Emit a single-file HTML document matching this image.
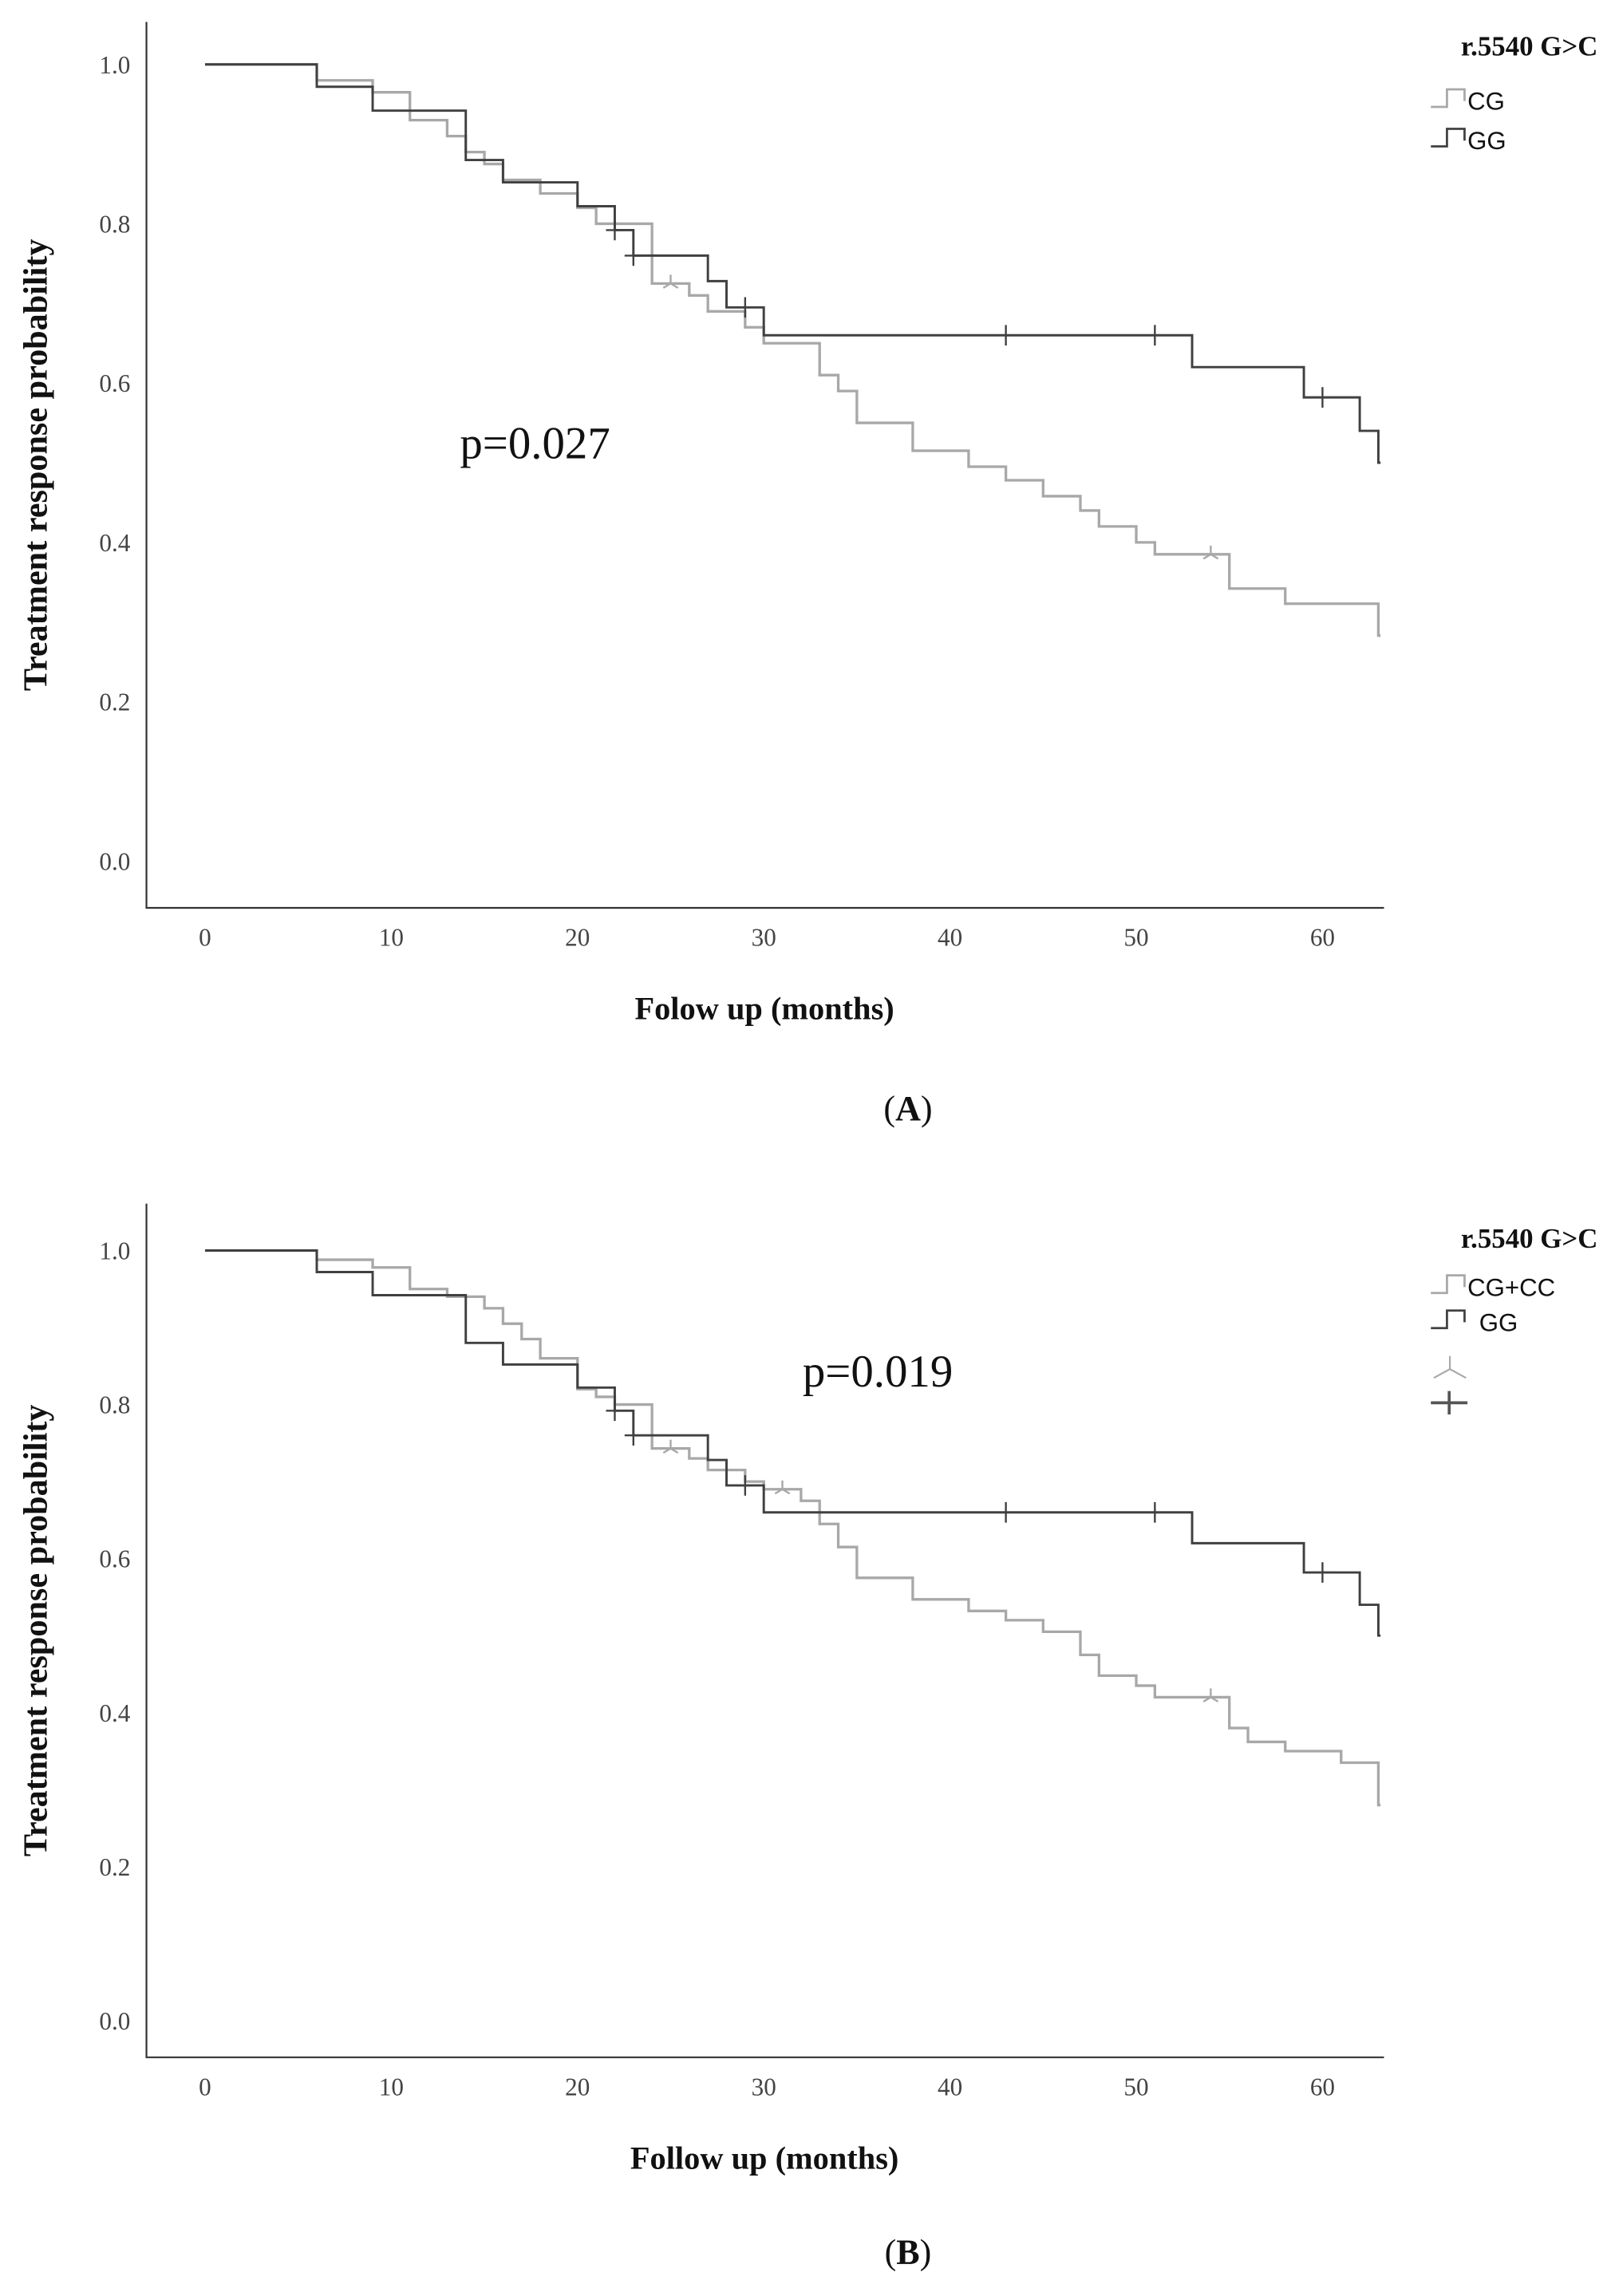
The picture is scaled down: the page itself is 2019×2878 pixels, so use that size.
<!DOCTYPE html>
<html><head><meta charset="utf-8"><style>
html,body{margin:0;padding:0;background:#fff;}
svg{display:block;}
text{font-family:"Liberation Serif",serif;}
text.sans{font-family:"Liberation Sans",sans-serif;}
</style></head><body>
<svg id="fig" width="2019" height="2878" viewBox="0 0 1100 1568" xmlns="http://www.w3.org/2000/svg"></svg>
<script>
// Panel A data
const aCgTimes = [0,6,9,11,13,14,15,16,18,20,21,24,26,27,29,30,33,34,35,38,41,43,45,47,48,50,51,55,58,63];
const aCgSurv  = [1.0,0.98,0.965,0.93,0.91,0.89,0.875,0.855,0.838,0.82,0.80,0.725,0.71,0.69,0.67,0.65,0.61,0.59,0.55,0.515,0.495,0.478,0.458,0.44,0.42,0.40,0.385,0.342,0.323,0.283];
const aCgCensT = [25,54];
const aGgTimes = [0,6,9,14,16,20,22,23,27,28,30,53,59,62,63];
const aGgSurv  = [1.0,0.972,0.942,0.88,0.852,0.822,0.792,0.76,0.728,0.695,0.66,0.62,0.582,0.54,0.50];
const aGgCensT = [22,23,29,43,51,60];
// Panel B data
const bCgTimes = [0,6,9,11,13,15,16,17,18,20,21,22,24,26,27,29,30,32,33,34,35,38,41,43,45,47,48,50,51,55,56,58,61,63];
const bCgSurv  = [1.0,0.988,0.978,0.95,0.94,0.925,0.905,0.885,0.86,0.82,0.81,0.80,0.743,0.73,0.715,0.70,0.69,0.675,0.645,0.615,0.575,0.547,0.532,0.52,0.505,0.475,0.448,0.435,0.42,0.38,0.362,0.35,0.335,0.28];
const bCgCensT = [25,31,54];
const bGgTimes = aGgTimes.slice();
const bGgSurv  = aGgSurv.slice();
const bGgCensT = aGgCensT.slice();
const xTicks = [0,10,20,30,40,50,60];
const yTicks = [0,0.2,0.4,0.6,0.8,1.0];
const yTickLabels = ["0.0","0.2","0.4","0.6","0.8","1.0"];

const NS="http://www.w3.org/2000/svg";
const svg=document.getElementById('fig');
function mk(tag,attrs,parent,txt){const e=document.createElementNS(NS,tag);for(const k in attrs)e.setAttribute(k,attrs[k]);if(txt!==undefined)e.textContent=txt;(parent||svg).appendChild(e);return e;}
function survAt(T,S,t){let v=S[0];for(let i=0;i<T.length;i++){if(T[i]<=t)v=S[i];}return v;}

function panel(cfg){
  const g=mk('g',{});
  
  
  const xs=t=>cfg.x0+(cfg.x60-cfg.x0)*t/60;
  const ys=v=>cfg.y0+(cfg.y1-cfg.y0)*v;
  const ax=mk('path',{d:`M100 ${cfg.top} V${cfg.bot} H945`,stroke:'#333','stroke-width':1.2,fill:'none'},g);
  
  
  xTicks.forEach(t=>{const e=mk('text',{x:xs(t),y:cfg.bot+26,'text-anchor':'middle','font-size':17,fill:'#444'},g,String(t));
    
    });
  yTicks.forEach((v,i)=>{const e=mk('text',{x:89,y:ys(v)+6,'text-anchor':'end','font-size':17,fill:'#444'},g,yTickLabels[i]);
    
    });
  const yt=mk('text',{transform:`translate(32 ${(cfg.top+cfg.bot)/2}) rotate(-90)`,'text-anchor':'middle','font-size':23,'font-weight':'bold',fill:'#111'},g,'Treatment response probability');
  
  
  const xt=mk('text',{x:522,y:cfg.bot+76,'text-anchor':'middle','font-size':22,'font-weight':'bold',fill:'#111'},g,cfg.xtitle);
  
  
  function series(T,S,C,color,w,nm,mark){
    let d=`M${xs(T[0])} ${ys(S[0])}`;
    for(let i=1;i<T.length;i++){d+=` H${xs(T[i])} V${ys(S[i])}`;}
    d+=` H${xs(T[T.length-1])+1.5}`;
    const p=mk('path',{d:d,stroke:color,'stroke-width':w,fill:'none'},g);
    
    
    C.forEach(t=>{const x=xs(t),y=ys(survAt(T,S,t));
      const m=mk('path',{d:mark==='plus'?`M${x-6} ${y} H${x+6} M${x} ${y-7} V${y+7}`:`M${x-5} ${y+3} L${x} ${y} L${x+5} ${y+3} M${x} ${y} V${y-6}`,stroke:color,'stroke-width':1.3,fill:'none'},g);
      
      });
  }
  series(cfg.cgT,cfg.cgS,cfg.cgC,'#a8a8a8',1.8,'cg','tri');
  series(cfg.ggT,cfg.ggS,cfg.ggC,'#404040',1.6,'gg','plus');
  const pv=mk('text',{x:cfg.px,y:cfg.py,'font-size':31,fill:'#111'},g,cfg.ptext);
  
  
  const lt=mk('text',{x:1091,y:cfg.ly,'text-anchor':'end','font-size':19,'font-weight':'bold',fill:'#111'},g,'r.5540 G>C');
  
  
  cfg.legend.forEach((L,i)=>{const y=cfg.ly+cfg.lgap0+i*cfg.lgap;
    const ic=mk('path',{d:`M977 ${y+3} H988 V${y-9} H1000 V${y-1}`,stroke:L.c,'stroke-width':1.5,fill:'none'},g);
    
    
    const tx=mk('text',{x:L.x,y:y+5,'font-size':17,'class':'sans',fill:'#111'},g,L.t);
    
    });
  if(cfg.extra){const y=cfg.ly+80;
    const m1=mk('path',{d:`M979 ${y+9} L990 ${y+3} L1001 ${y+9} M990 ${y+3} V${y-6}`,stroke:'#aaa','stroke-width':1.2,fill:'none'},g);
    
    
    const m2=mk('path',{d:`M977 ${y+26} H1002 M989.5 ${y+18} V${y+34}`,stroke:'#555','stroke-width':2,fill:'none'},g);
    
    }
  const lab=mk('text',{x:620,y:cfg.laby,'text-anchor':'middle','font-size':24,fill:'#111'},g,'');
  
  
  mk('tspan',{},lab,'(');mk('tspan',{'font-weight':'bold'},lab,cfg.label);mk('tspan',{},lab,')');
}
panel({name:'panel-a',top:15,bot:620,x0:140,x60:903,y0:588,y1:44,
  cgT:aCgTimes,cgS:aCgSurv,cgC:aCgCensT,ggT:aGgTimes,ggS:aGgSurv,ggC:aGgCensT,
  xtitle:'Folow up (months)',ptext:'p=0.027',px:314,py:313,ly:38,lgap0:32,lgap:27,
  legend:[{t:'CG',c:'#a8a8a8',x:1002},{t:'GG',c:'#404040',x:1002}],extra:false,laby:765,label:'A'});
panel({name:'panel-b',top:822,bot:1405,x0:140,x60:903,y0:1380,y1:854,
  cgT:bCgTimes,cgS:bCgSurv,cgC:bCgCensT,ggT:bGgTimes,ggS:bGgSurv,ggC:bGgCensT,
  xtitle:'Follow up (months)',ptext:'p=0.019',px:548,py:947,ly:852,lgap0:28,lgap:24,
  legend:[{t:'CG+CC',c:'#a8a8a8',x:1002},{t:'GG',c:'#404040',x:1010}],extra:true,laby:1546,label:'B'});
</script>
</body></html>
